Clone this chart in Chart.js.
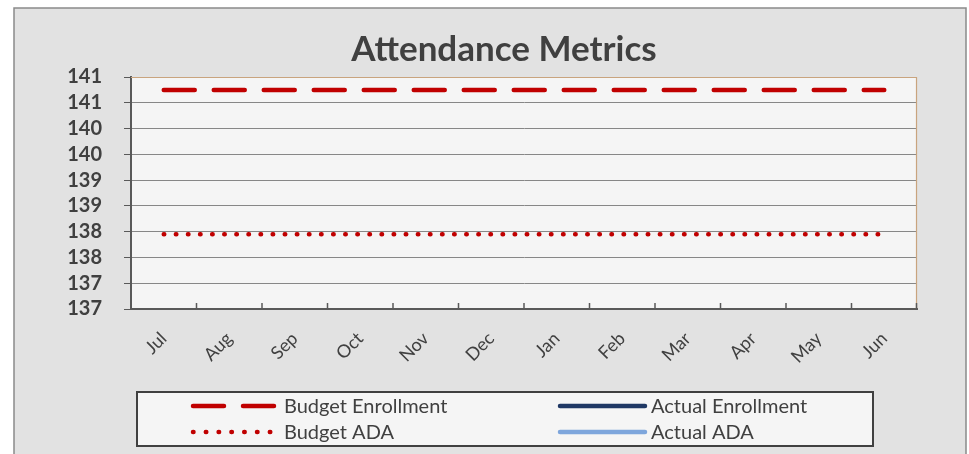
<!DOCTYPE html>
<html>
<head>
<meta charset="utf-8">
<script src="https://cdn.jsdelivr.net/npm/chart.js@4/dist/chart.umd.min.js"></script>
<style>
  html, body { margin: 0; padding: 0; background: #ffffff; }
  #wrap { width: 969px; height: 454px; position: relative; }
</style>
</head>
<body>
<div id="wrap"><canvas id="c" width="969" height="454"></canvas></div>
<script>
// ---- data ----
const months = ['Jul','Aug','Sep','Oct','Nov','Dec','Jan','Feb','Mar','Apr','May','Jun'];
const budgetEnrollment = [140.75,140.75,140.75,140.75,140.75,140.75,140.75,140.75,140.75,140.75,140.75,140.75];
const actualEnrollment = [null,null,null,null,null,null,null,null,null,null,null,null];
const budgetADA = [137.95,137.95,137.95,137.95,137.95,137.95,137.95,137.95,137.95,137.95,137.95,137.95];
const actualADA = [null,null,null,null,null,null,null,null,null,null,null,null];
const yTickLabels = ['137','137','138','138','139','139','140','140','141','141'];
const chartTitle = 'Attendance Metrics';

const FONT = 'Lato, "Open Sans", sans-serif';
const TXT = '#404040';

const backgroundPlugin = {
  id: 'bgPanel',
  beforeDraw(chart) {
    const ctx = chart.ctx, a = chart.chartArea;
    ctx.save();
    ctx.fillStyle = '#ffffff';
    ctx.fillRect(0, 0, chart.width, chart.height);
    ctx.fillStyle = '#e2e2e2';
    ctx.fillRect(14, 8, 952, chart.height);
    ctx.strokeStyle = '#8a8a8a';
    ctx.lineWidth = 1.5;
    ctx.strokeRect(14, 8, 952, chart.height + 10);
    ctx.fillStyle = '#f5f5f5';
    ctx.fillRect(a.left, a.top, a.right - a.left, a.bottom - a.top);
    ctx.restore();
  },
  afterDraw(chart) {
    const ctx = chart.ctx, a = chart.chartArea;
    ctx.save();
    // plot border top/right
    ctx.strokeStyle = '#c9a47e';
    ctx.lineWidth = 1.2;
    ctx.beginPath();
    ctx.moveTo(a.left, a.top + 0.5);
    ctx.lineTo(a.right - 0.5, a.top + 0.5);
    ctx.lineTo(a.right - 0.5, a.bottom);
    ctx.stroke();
    // inward x ticks at category boundaries
    const xs = chart.scales.x;
    ctx.strokeStyle = '#595959';
    ctx.lineWidth = 1.5;
    ctx.beginPath();
    for (let i = 1; i <= months.length; i++) {
      const px = i < months.length
        ? (xs.getPixelForValue(i - 1) + xs.getPixelForValue(i)) / 2
        : a.right - 0.5;
      ctx.moveTo(px, a.bottom);
      ctx.lineTo(px, a.bottom - 6);
    }
    ctx.stroke();
    // legend
    const bx = 137, by = 392, bw = 736, bh = 54;
    ctx.fillStyle = '#f5f5f5';
    ctx.fillRect(bx, by, bw, bh);
    ctx.strokeStyle = '#404040';
    ctx.lineWidth = 2;
    ctx.strokeRect(bx, by, bw, bh);
    const slots = [[193, 406], [560, 406], [193, 432], [560, 432]];
    ctx.font = '20px ' + FONT;
    ctx.textBaseline = 'middle';
    ctx.textAlign = 'left';
    chart.data.datasets.forEach((ds, k) => {
      const [lx, ly] = slots[k];
      const dotted = ds.borderDash && ds.borderDash[0] < 2;
      ctx.save();
      ctx.strokeStyle = ds.borderColor;
      ctx.lineWidth = ds.borderWidth;
      ctx.lineCap = ds.borderCapStyle || 'butt';
      ctx.setLineDash(dotted ? [0.5, 12.3] : (ds.borderDash || []));
      ctx.beginPath();
      ctx.moveTo(lx, ly);
      ctx.lineTo(lx + (dotted ? 80 : 85), ly);
      ctx.stroke();
      ctx.restore();
      ctx.fillStyle = TXT;
      ctx.fillText(ds.label, lx + 91, ly + 1);
    });
    ctx.restore();
  }
};

new Chart(document.getElementById('c'), {
  type: 'line',
  data: {
    labels: months,
    datasets: [
      { label: 'Budget Enrollment', data: budgetEnrollment, borderColor: '#c00000', borderWidth: 4.5,
        borderDash: [31, 19], borderCapStyle: 'round', pointRadius: 0, fill: false, tension: 0 },
      { label: 'Actual Enrollment', data: actualEnrollment, borderColor: '#1f3864', borderWidth: 4.5,
        borderCapStyle: 'round', pointRadius: 0, fill: false, tension: 0 },
      { label: 'Budget ADA', data: budgetADA, borderColor: '#c00000', borderWidth: 4.5,
        borderDash: [0.5, 11.6], borderCapStyle: 'round', pointRadius: 0, fill: false, tension: 0 },
      { label: 'Actual ADA', data: actualADA, borderColor: '#7ea6dc', borderWidth: 4.5,
        borderCapStyle: 'round', pointRadius: 0, fill: false, tension: 0 }
    ]
  },
  options: {
    responsive: false,
    animation: false,
    devicePixelRatio: 1,
    layout: { padding: { left: 39, right: 0, top: 0, bottom: 0 } },
    plugins: {
      legend: { display: false },
      tooltip: { enabled: false },
      title: {
        display: true, text: chartTitle, color: TXT,
        font: { family: FONT, size: 35, weight: 'bold', lineHeight: 1.2 },
        padding: { top: 29, bottom: 6 }
      }
    },
    scales: {
      x: {
        type: 'category', offset: true,
        afterFit(s) { s.height = 145; },
        grid: { display: true, drawOnChartArea: false, drawTicks: false, offset: true },
        border: { display: true, color: '#595959', width: 2 },
        ticks: { color: TXT, font: { family: FONT, size: 18 }, minRotation: 45, maxRotation: 45, padding: 19, autoSkip: false }
      },
      y: {
        min: 136.5, max: 141,
        afterFit(s) { s.width = 92; },
        afterBuildTicks(s) {
          s.ticks = yTickLabels.map((_, i) => ({ value: 136.5 + i * 0.5 }));
        },
        grid: {
          color: (c) => c.index === yTickLabels.length - 1 ? '#c9a47e' : '#878787',
          tickColor: '#595959', lineWidth: 1, tickLength: 7, drawTicks: true
        },
        border: { display: true, color: '#595959', width: 2 },
        ticks: {
          color: TXT, padding: 22, autoSkip: false, font: { family: FONT, size: 20, weight: 'bold' },
          callback: (v, i) => yTickLabels[i]
        }
      },
      yRightSpace: {
        type: 'linear', position: 'right', display: true,
        afterFit(s) { s.width = 52; },
        grid: { display: false, drawTicks: false },
        border: { display: false },
        ticks: { display: false }
      }
    }
  },
  plugins: [backgroundPlugin]
});
</script>
</body>
</html>
